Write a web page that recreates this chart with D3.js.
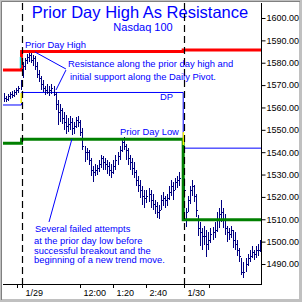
<!DOCTYPE html>
<html>
<head>
<meta charset="utf-8">
<script src="https://cdn.jsdelivr.net/npm/d3@7"></script>
<style>
  body { margin: 0; background: #fff; }
  svg { display: block; font-family: Arial, "Liberation Sans", sans-serif; }
</style>
</head>
<body>
<div id="chart"></div>
<script>
// 5 minute bars, Nasdaq 100, last part of 1/28, all of 1/29, first part of 1/30
const barHigh = [
    1566.5, 1565.1, 1566.0, 1566.9, 1567.4, 1567.8, 1568.7, 1569.6, 1572.3,
    1580.3, 1582.1, 1583.9, 1584.3, 1584.3, 1583.5, 1583.0, 1580.3, 1576.7, 1574.1, 1572.3, 1569.6, 1570.5, 1569.6, 1570.5, 1569.6,
    1566.9, 1563.3, 1561.5, 1559.8, 1558.0, 1556.6, 1555.3, 1556.2, 1555.3, 1553.5, 1555.7, 1556.2, 1554.4,
    1550.8, 1542.8, 1541.9, 1541.0, 1537.4, 1533.8, 1534.7, 1534.3, 1536.5, 1538.7, 1538.3, 1537.4, 1536.5,
    1535.6, 1534.7, 1536.5, 1538.7, 1540.1, 1542.8, 1546.3, 1546.8, 1543.7, 1541.9, 1538.7, 1537.4, 1535.6,
    1532.0, 1529.3, 1527.5, 1524.9, 1523.1, 1523.1, 1524.0, 1523.1, 1521.3, 1518.6, 1517.7, 1516.4,
    1520.8, 1522.2, 1520.4, 1521.3, 1524.9, 1527.5, 1526.7, 1528.4, 1529.3, 1531.1, 1529.8, 1528.4,
    1515.0, 1520.4, 1524.9, 1527.5, 1525.3, 1521.3, 1511.9, 1508.8, 1506.1, 1507.0, 1505.2, 1504.3,
    1506.1, 1506.5, 1508.8, 1513.2, 1515.0, 1518.6, 1515.0, 1512.3, 1507.0, 1506.1, 1507.0, 1505.2, 1504.3,
    1500.7, 1497.1, 1492.7, 1490.9, 1492.7, 1494.5, 1496.3, 1498.0, 1496.3, 1498.0, 1498.9, 1500.7
];
const barLow = [
    1562.4, 1562.4, 1562.9, 1563.8, 1564.2, 1564.7, 1565.6, 1566.5, 1567.8,
    1573.2, 1576.7, 1579.4, 1580.3, 1579.9, 1578.5, 1576.7, 1573.2, 1571.4, 1567.8, 1566.9, 1565.6, 1566.0, 1565.1, 1566.0, 1565.1,
    1558.9, 1552.1, 1553.5, 1552.6, 1549.9, 1548.1, 1549.0, 1549.9, 1547.7, 1548.1, 1550.8, 1551.3, 1547.2,
    1541.0, 1535.6, 1536.5, 1534.3, 1529.3, 1526.7, 1529.3, 1529.8, 1531.1, 1532.9, 1532.0, 1532.0, 1530.2,
    1529.3, 1528.4, 1530.2, 1532.0, 1534.3, 1536.5, 1540.1, 1541.0, 1536.5, 1534.3, 1532.0, 1529.8, 1528.4,
    1524.9, 1522.2, 1519.5, 1516.4, 1515.0, 1517.3, 1517.7, 1515.0, 1514.1, 1512.3, 1510.6, 1510.1,
    1514.1, 1515.9, 1515.0, 1515.9, 1518.6, 1520.4, 1518.6, 1523.1, 1524.0, 1524.9, 1520.8, 1519.5,
    1506.5, 1513.2, 1516.8, 1520.4, 1517.7, 1511.0, 1502.5, 1498.0, 1496.3, 1498.5, 1493.1, 1496.3,
    1499.4, 1500.7, 1501.6, 1504.3, 1506.1, 1508.8, 1506.1, 1503.0, 1499.8, 1500.7, 1501.6, 1497.1, 1496.3,
    1493.6, 1490.9, 1485.1, 1483.7, 1486.4, 1489.1, 1490.9, 1492.7, 1491.8, 1492.7, 1493.6, 1495.4
];
const barClose = [
    1564.2, 1563.8, 1565.1, 1566.0, 1565.6, 1566.9, 1567.8, 1568.7, 1570.5,
    1578.5, 1581.2, 1582.6, 1583.5, 1581.2, 1582.1, 1578.5, 1575.0, 1573.2, 1570.5, 1568.7, 1567.8, 1566.9, 1567.8, 1568.7, 1566.0,
    1561.5, 1558.0, 1558.9, 1555.3, 1553.5, 1551.7, 1552.6, 1553.5, 1550.8, 1551.7, 1554.4, 1553.5, 1549.0,
    1542.8, 1540.1, 1540.1, 1536.5, 1532.0, 1531.1, 1532.0, 1532.9, 1534.7, 1537.4, 1535.6, 1534.7, 1533.8,
    1532.0, 1531.1, 1533.8, 1536.5, 1538.3, 1541.0, 1544.5, 1542.8, 1541.0, 1537.4, 1535.6, 1532.9, 1531.1,
    1527.5, 1525.3, 1523.1, 1520.4, 1519.5, 1520.4, 1521.3, 1518.6, 1516.8, 1515.9, 1513.2, 1514.1,
    1518.6, 1519.5, 1518.6, 1519.5, 1522.2, 1524.9, 1523.1, 1526.7, 1527.5, 1528.4, 1525.3, 1523.1,
    1513.2, 1518.6, 1523.1, 1524.9, 1520.4, 1514.1, 1506.1, 1504.3, 1502.5, 1502.5, 1498.9, 1500.7,
    1503.4, 1504.3, 1505.2, 1509.7, 1512.3, 1513.2, 1509.7, 1506.1, 1504.3, 1503.4, 1505.2, 1500.7, 1498.9,
    1496.3, 1493.6, 1486.4, 1486.4, 1490.0, 1492.7, 1493.6, 1495.4, 1494.5, 1496.3, 1496.3, 1498.0
];

// daily levels (one value per day shown)
const priorDayHigh = [1576.7, 1585.0, 1585.7];
const dailyPivot = [1561.1, 1566.7, 1541.8];
const priorDayLow = [1544.0, 1545.8, 1509.8];
const levelStarts = [-0.5, 8.5, 86.8]; // bar slot where each day's level begins
const levelEnd = 124.5;
const daySeparators = [8.5, 87.2];

// axis ticks
const priceTicks = [1490, 1500, 1510, 1520, 1530, 1540, 1550, 1560, 1570, 1580, 1590, 1600];
const timeTickSlots = [6.25, 8.6, 36.75, 52.75, 68.75, 87.2, 99.25];
const timeTickLabels = ["", "1/29", "12:00", "1:20", "2:40", "1/30", ""];

const width = 302,
    height = 302,
    plot = { left: 3, right: 261, top: 3, bottom: 284 };

const x = d3.scaleLinear().domain([0, barHigh.length - 1]).range([4, 260]);
const y = d3.scaleLinear().domain([1490, 1600]).range([264, 18]);

const svg = d3.select("#chart").append("svg")
    .attr("width", width)
    .attr("height", height);

// grey frame
svg.append("rect").attr("width", width).attr("height", height).attr("fill", "#c0c0c0");
svg.append("rect").attr("x", 2).attr("y", 2).attr("width", 297).attr("height", 297).attr("fill", "#fff");
svg.append("path").attr("d", "M1.5,300V1.5H300").attr("fill", "none").attr("stroke", "#808080");

// title
svg.append("text")
    .attr("x", 140).attr("y", 18)
    .attr("text-anchor", "middle")
    .attr("font-size", "16.5px")
    .attr("fill", "#0000ff")
    .text("Prior Day High As Resistance");
svg.append("text")
    .attr("x", 143).attr("y", 31)
    .attr("text-anchor", "middle")
    .attr("font-size", "11px")
    .attr("fill", "#0000ff")
    .text("Nasdaq 100");

const chart = svg.append("g");

// level lines, stepping at each new day
function levelPoints(levels) {
    const pts = [];
    levels.forEach(function (v, k) {
        const end = k < levels.length - 1 ? levelStarts[k + 1] : levelEnd;
        pts.push([levelStarts[k], v], [end, v]);
    });
    return pts;
}
const levelLine = d3.line()
    .x(function (d) { return x(d[0]); })
    .y(function (d) { return y(d[1]); });

chart.append("path")
    .attr("d", levelLine(levelPoints(dailyPivot)))
    .attr("fill", "none").attr("stroke", "#0000ff").attr("stroke-width", 1);

// small highlighted gap pieces on the day change
const gapMarks = [
    { slot: 8.0, from: 1582.6, to: 1577.6, color: "#00e0e0" },
    { slot: 8.3, from: 1566.5, to: 1562.0, color: "#ffff00" },
    { slot: 86.9, from: 1549.0, to: 1543.2, color: "#ffff00" }
];

// price bars (high-low with close tick)
chart.append("g").selectAll("path")
    .data(barHigh)
    .enter().append("path")
    .attr("d", function (d, i) {
        const xi = Math.round(x(i)) + 0.5;
        const yc = Math.round(y(barClose[i])) + 0.5;
        return "M" + xi + "," + y(d) + "V" + y(barLow[i]) + "M" + (xi - 0.5) + "," + yc + "H" + (xi + 1.5);
    })
    .attr("fill", "none")
    .attr("stroke", "#000080")
    .attr("stroke-width", 1)
    .attr("shape-rendering", "crispEdges");

chart.append("path")
    .attr("d", levelLine(levelPoints(priorDayHigh)))
    .attr("fill", "none").attr("stroke", "#ff0000").attr("stroke-width", 3);
chart.append("path")
    .attr("d", levelLine(levelPoints(priorDayLow)))
    .attr("fill", "none").attr("stroke", "#008000").attr("stroke-width", 3);

chart.selectAll(".gap")
    .data(gapMarks)
    .enter().append("line")
    .attr("class", "gap")
    .attr("x1", function (d) { return x(d.slot); })
    .attr("x2", function (d) { return x(d.slot); })
    .attr("y1", function (d) { return y(d.from); })
    .attr("y2", function (d) { return y(d.to); })
    .attr("stroke", function (d) { return d.color; })
    .attr("stroke-width", 1.5);

// dashed day separators
chart.selectAll(".sep")
    .data(daySeparators)
    .enter().append("line")
    .attr("class", "sep")
    .attr("x1", function (d) { return Math.round(x(d)) + 0.5; })
    .attr("x2", function (d) { return Math.round(x(d)) + 0.5; })
    .attr("y1", plot.top)
    .attr("y2", plot.bottom)
    .attr("stroke", "#000")
    .attr("stroke-width", 1.2)
    .attr("stroke-dasharray", "7,4");

// annotation pointer lines (bar slot, price)
const pointers = [
    [[15.0, 1584.8], [30.0, 1577.2]],
    [[30.0, 1576.7], [25.2, 1567.8]],
    [[21.8, 1508.8], [32.9, 1545.9]]
];
chart.selectAll(".ptr")
    .data(pointers)
    .enter().append("line")
    .attr("class", "ptr")
    .attr("x1", function (d) { return x(d[0][0]); })
    .attr("y1", function (d) { return y(d[0][1]); })
    .attr("x2", function (d) { return x(d[1][0]); })
    .attr("y2", function (d) { return y(d[1][1]); })
    .attr("stroke", "#0000ff")
    .attr("stroke-width", 1);

// annotation texts
const notes = [
    { x: 25, y: 48, t: "Prior Day High" },
    { x: 68, y: 67, t: "Resistance along the prior day high and" },
    { x: 70, y: 80, t: "initial support along the Daily Pivot." },
    { x: 120, y: 135, t: "Prior Day Low" },
    { x: 35, y: 232, t: "Several failed attempts" },
    { x: 34, y: 244, t: "at the prior day low before" },
    { x: 34, y: 253.5, t: "successful breakout and the" },
    { x: 34, y: 263, t: "beginning of a new trend move." }
];
svg.selectAll(".note")
    .data(notes)
    .enter().append("text")
    .attr("class", "note")
    .attr("x", function (d) { return d.x; })
    .attr("y", function (d) { return d.y; })
    .attr("font-size", "9.4px")
    .attr("fill", "#0000ff")
    .text(function (d) { return d.t; });
svg.append("text")
    .attr("x", 173).attr("y", 100)
    .attr("text-anchor", "end")
    .attr("font-size", "9.4px")
    .attr("fill", "#0000ff")
    .text("DP");

// right price axis
svg.append("line")
    .attr("x1", plot.right + 0.5).attr("x2", plot.right + 0.5)
    .attr("y1", plot.top).attr("y2", plot.bottom + 0.5)
    .attr("stroke", "#000");
const yAxis = svg.append("g")
    .attr("transform", "translate(" + (plot.right + 0.5) + ",0)")
    .call(d3.axisRight(y)
        .tickValues(priceTicks)
        .tickFormat(d3.format(".2f"))
        .tickSize(4)
        .tickPadding(1)
        .tickSizeOuter(0));
yAxis.select(".domain").remove();
yAxis.selectAll("text").attr("font-size", "9px").attr("font-family", "Arial, 'Liberation Sans', sans-serif").attr("fill", "#000");
yAxis.selectAll("line").attr("stroke", "#000");

// bottom time axis
svg.append("line")
    .attr("x1", plot.left).attr("x2", plot.right + 1)
    .attr("y1", plot.bottom + 0.5).attr("y2", plot.bottom + 0.5)
    .attr("stroke", "#000");
const timeTicks = svg.append("g").selectAll("g")
    .data(timeTickSlots)
    .enter().append("g")
    .attr("transform", function (d) { return "translate(" + (Math.round(x(d)) + 0.5) + "," + plot.bottom + ")"; });
timeTicks.append("line")
    .attr("y1", 0).attr("y2", 4)
    .attr("stroke", "#000");
timeTicks.append("text")
    .attr("x", 3).attr("y", 12)
    .attr("font-size", "9px")
    .attr("fill", "#000")
    .text(function (d, i) { return timeTickLabels[i]; });
</script>
</body>
</html>
